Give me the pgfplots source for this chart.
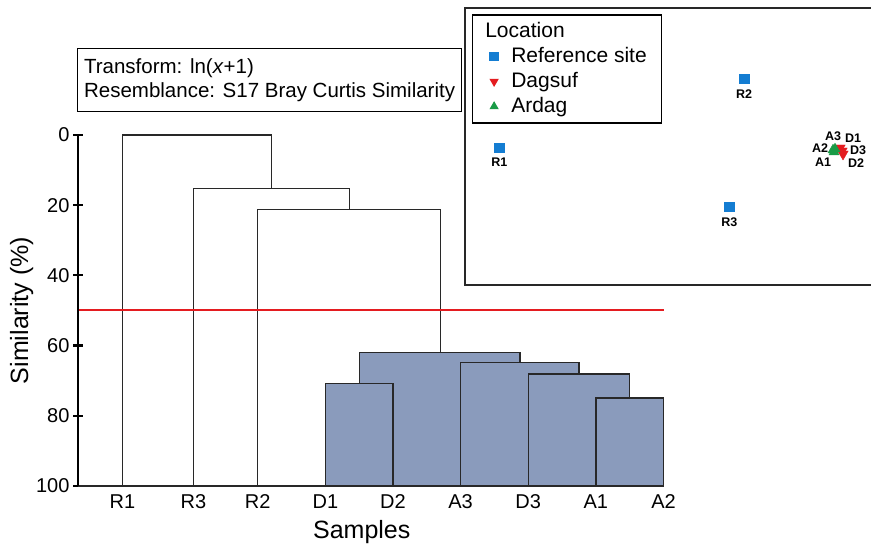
\documentclass[border=0pt]{standalone}
\usepackage{fontspec}
\setmainfont{Liberation Sans}
\usepackage{pgfplots}
\pgfplotsset{compat=1.18}

\definecolor{boxfill}{RGB}{138,155,188}
\definecolor{dline}{RGB}{40,40,40}
\definecolor{refblue}{RGB}{20,125,210}
\definecolor{dagred}{RGB}{228,28,32}
\definecolor{argreen}{RGB}{25,155,70}

\newcommand{\bigfont}{\fontsize{20bp}{24bp}\selectfont}
\newcommand{\boxfont}{\fontsize{20.5bp}{24bp}\selectfont}
\newcommand{\labfont}{\fontsize{25bp}{29bp}\selectfont}
\newcommand{\smallbold}{\fontsize{12.5bp}{14bp}\selectfont\bfseries}

\begin{document}
\begin{tikzpicture}[x=1bp,y=1bp]
\path[use as bounding box] (0,0) rectangle (871,547);

% ---- dendrogram
\begin{axis}[
    at={(78bp,61bp)}, anchor=south west,
    scale only axis, width=585.5bp, height=351bp,
    xmin=0.342, xmax=9, ymin=0, ymax=100, y dir=reverse,
    axis x line=bottom, axis y line=left,
    axis line style={-},
    every outer y axis line/.append style={line width=2.6bp, black},
    every outer x axis line/.append style={line width=1.2bp, dline},
    xtick={1,2.05,3,4,5,6,7,8,9},
    xticklabels={R1,R3,R2,D1,D2,A3,D3,A1,A2},
    major x tick style={draw=none},
    ytick={0,20,40,60,80,100},
    tick align=center, major tick length=10bp,
    major y tick style={line width=2.2bp, black},
    tick label style={font=\bigfont},
    /pgf/number format/assume math mode=true,
    xlabel={Samples}, ylabel={Similarity (\%)},
    label style={font=\labfont},
    xlabel style={xshift=-9bp},
    xlabel shift=5bp, ylabel shift=-4bp,
    clip=false,
]
% unclustered branches
\addplot[dline, line width=1.3bp] coordinates {(1,100) (1,0) (3.2,0) (3.2,15.3)};
\addplot[dline, line width=1.3bp] coordinates {(2.05,100) (2.05,15.3) (4.36,15.3) (4.36,21.3)};
\addplot[dline, line width=1.3bp] coordinates {(3,100) (3,21.3) (5.7,21.3) (5.7,61.9)};
% shaded cluster
\addplot[fill=boxfill, draw=dline, line width=1.3bp] coordinates {(4.5,100) (4.5,61.9) (6.88,61.9) (6.88,100)} -- cycle;
\addplot[fill=boxfill, draw=dline, line width=1.3bp] coordinates {(4,100) (4,70.7) (5,70.7) (5,100)} -- cycle;
\addplot[fill=boxfill, draw=dline, line width=1.3bp] coordinates {(6,100) (6,64.8) (7.75,64.8) (7.75,100)} -- cycle;
\addplot[fill=boxfill, draw=dline, line width=1.3bp] coordinates {(7,100) (7,68.1) (8.5,68.1) (8.5,100)} -- cycle;
\addplot[fill=boxfill, draw=dline, line width=1.3bp] coordinates {(8,100) (8,74.9) (9,74.9) (9,100)} -- cycle;
% cut-off line
\addplot[dagred, line width=2bp] coordinates {(0.342,50) (9,50)};
% heavier similarity axis rule
\draw[line width=2.8bp, black] (axis cs:0.342,0) -- (axis cs:0.342,100);
\end{axis}

% ---- MDS inset
\begin{axis}[
    at={(465bp,262bp)}, anchor=south west,
    scale only axis, width=406bp, height=277bp,
    xmin=0, xmax=406, ymin=0, ymax=277,
    hide axis, clip=false,
    legend style={at={(0.01724,0.9765)}, anchor=north west,
        draw=black, line width=1.2bp, font=\fontsize{21bp}{25bp}\selectfont,
        inner xsep=13bp, inner ysep=5bp, row sep=2bp,
        /tikz/every odd column/.append style={column sep=11bp},
        nodes={inner sep=2pt, text height=15bp, text depth=4bp}},
    legend cell align=left,
    legend image post style={mark size=4.2bp},
]
\addlegendimage{empty legend}
\addlegendentry{\hspace*{-26bp}Location}
\addplot[only marks, mark=square*, mark size=4.7bp, refblue, mark options={draw=none},
    nodes near coords, point meta=explicit symbolic,
    every node near coord/.style={anchor=north, inner sep=0pt, yshift=-10.5bp,
        text=black, font=\smallbold}]
    coordinates {(34.3,137.3) [R1] (279,206.3) [R2] (264.3,78.3) [R3]};
\addlegendentry{Reference site}
\addplot[only marks, mark=triangle*, mark size=6bp, dagred, mark options={draw=none, rotate=180}]
    coordinates {(375,137) (378,131) (377,134)};
\addlegendentry{Dagsuf}
\addplot[only marks, mark=triangle*, mark size=5.8bp, argreen, mark options={draw=none}]
    coordinates {(368,135) (369,133) (370,136)};
\addlegendentry{Ardag}
\node[font=\smallbold] at (axis cs:368,149) {A3};
\node[font=\smallbold] at (axis cs:388,147) {D1};
\node[font=\smallbold] at (axis cs:355,137) {A2};
\node[font=\smallbold] at (axis cs:393,135) {D3};
\node[font=\smallbold] at (axis cs:358,123) {A1};
\node[font=\smallbold] at (axis cs:391,122) {D2};
\end{axis}

% inset frame (right edge runs off the figure)
\draw[line width=1.3bp, dline] (871,539) -- (465,539) -- (465,262) -- (871,262);

% transform / resemblance box
\node[draw, line width=1.2bp, anchor=north west, align=left, inner xsep=6.5bp,
      inner ysep=9.5bp, font=\boxfont] at (77,498.7)
  {Transform: ln(\textit{x}+1)\\[0.5bp]Resemblance: S17 Bray Curtis Similarity};
\end{tikzpicture}
\end{document}
